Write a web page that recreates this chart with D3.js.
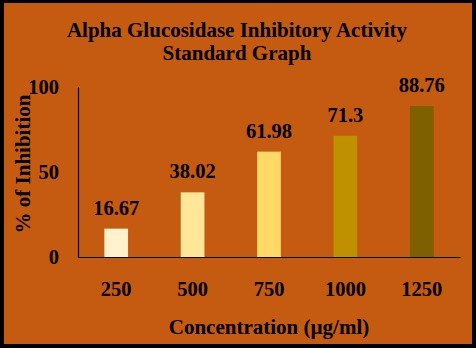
<!DOCTYPE html>
<html>
<head>
<meta charset="utf-8">
<script src="https://cdn.jsdelivr.net/npm/d3@7"></script>
<style>
  html, body { margin: 0; padding: 0; background: #000; }
  svg { display: block; }
  text { font-family: "Liberation Serif", "Times New Roman", serif; font-weight: bold; fill: #000; }
</style>
</head>
<body>
<svg id="chart" width="476" height="348"></svg>
<script>
// Concentrations tested and the measured inhibition (%)
const concentrations = ["250", "500", "750", "1000", "1250"];
const inhibition = [16.67, 38.02, 61.98, 71.3, 88.76];
const barColors = ["#FFF2CC", "#FFE699", "#FFD966", "#BF9000", "#7F6000"];
const yTicks = [0, 50, 100];

const svg = d3.select("#chart");
const W = 476, H = 348;

// black frame with orange panel
svg.append("rect").attr("width", W).attr("height", H).attr("fill", "#000");
svg.append("rect").attr("x", 4).attr("y", 3).attr("width", 468).attr("height", 341).attr("fill", "#C55A11");

const plot = { left: 78, right: 460, top: 87, bottom: 257 };

const x = d3.scaleBand()
  .domain(concentrations)
  .range([plot.left, plot.right])
  .paddingInner(0.69)
  .paddingOuter(0.345);

const y = d3.scaleLinear().domain([0, 100]).range([plot.bottom, plot.top]);

// bars
svg.append("g").selectAll("rect")
  .data(inhibition)
  .join("rect")
  .attr("x", (d, i) => x(concentrations[i]))
  .attr("y", d => y(d))
  .attr("width", x.bandwidth())
  .attr("height", d => y(0) - y(d))
  .attr("fill", (d, i) => barColors[i]);

// value labels
svg.append("g").selectAll("text")
  .data(inhibition)
  .join("text")
  .attr("x", (d, i) => x(concentrations[i]) + x.bandwidth() / 2)
  .attr("y", d => y(d) - 14)
  .attr("text-anchor", "middle")
  .attr("font-size", 20.5)
  .text(d => d);

// y axis
const yAxis = svg.append("g")
  .attr("transform", `translate(${plot.left},0)`)
  .call(d3.axisLeft(y).tickValues(yTicks).tickSize(0).tickPadding(19));
yAxis.select(".domain").attr("stroke", "#000").attr("stroke-width", 1.2);
yAxis.selectAll("text")
  .attr("font-size", 20.5)
  .attr("font-family", "Liberation Serif, serif")
  .attr("font-weight", "bold")
  .attr("fill", "#000");

// x axis
const xAxis = svg.append("g")
  .attr("transform", `translate(0,${plot.bottom})`)
  .call(d3.axisBottom(x).tickSize(0).tickPadding(24));
xAxis.select(".domain").attr("stroke", "#000").attr("stroke-width", 1.2);
xAxis.selectAll("text")
  .attr("font-size", 20.5)
  .attr("font-family", "Liberation Serif, serif")
  .attr("font-weight", "bold")
  .attr("fill", "#000");

// titles
svg.append("text")
  .attr("x", 237).attr("y", 37)
  .attr("text-anchor", "middle")
  .attr("font-size", 21)
  .text("Alpha Glucosidase Inhibitory Activity");
svg.append("text")
  .attr("x", 237).attr("y", 60)
  .attr("text-anchor", "middle")
  .attr("font-size", 21)
  .text("Standard Graph");

svg.append("text")
  .attr("x", 269).attr("y", 334)
  .attr("text-anchor", "middle")
  .attr("font-size", 21)
  .text("Concentration (µg/ml)");

svg.append("text")
  .attr("transform", "translate(30,164) rotate(-90)")
  .attr("text-anchor", "middle")
  .attr("font-size", 21)
  .text("% of Inhibition");
</script>
</body>
</html>
